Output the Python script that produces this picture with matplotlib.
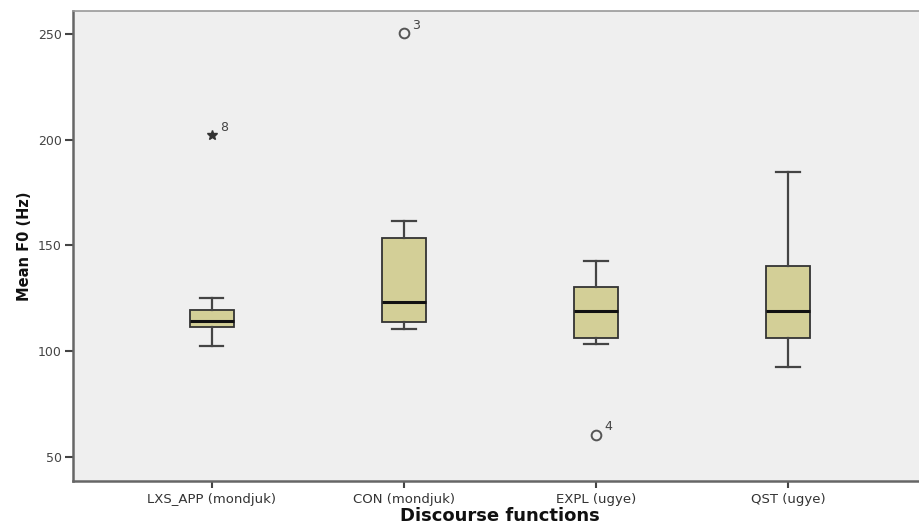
import matplotlib
matplotlib.use("Agg")
import matplotlib.pyplot as plt

categories = ["LXS_APP (mondjuk)", "CON (mondjuk)", "EXPL (ugye)", "QST (ugye)"]
whisker_low = [102.4, 110.7, 103.6, 92.3]
q1 = [111.5, 113.6, 106.3, 106.3]
median = [114.2, 123.2, 118.9, 118.8]
q3 = [119.4, 153.5, 130.4, 140.2]
whisker_high = [125.0, 161.5, 142.6, 184.8]
outlier_values = [[202.2], [250.3], [60.6], []]
outlier_labels = [["8"], ["3"], ["4"], []]
outlier_markers = [["*"], ["o"], ["o"], []]
yticks = [50, 100, 150, 200, 250]

plt.rcParams['font.family'] = ['DejaVu Sans']

fig = plt.figure(figsize=(9.19, 5.25), dpi=100)
fig.patch.set_facecolor('white')
ax = fig.add_axes([0.0794, 0.0829, 0.9293, 0.8967])
ax.set_facecolor('#efefef')

stats = []
for i in range(len(categories)):
    stats.append(dict(whislo=whisker_low[i], q1=q1[i], med=median[i], q3=q3[i],
                      whishi=whisker_high[i], fliers=[], label=categories[i]))
positions = list(range(1, len(categories) + 1))
ax.bxp(stats, positions=positions, widths=0.23, patch_artist=True, showfliers=False,
       boxprops=dict(facecolor='#d3cf97', edgecolor='#333333', linewidth=1.3),
       medianprops=dict(color='#111111', linewidth=2.2),
       whiskerprops=dict(color='#444444', linewidth=1.6),
       capprops=dict(color='#444444', linewidth=1.6),
       capwidths=0.12)

for i, pos in enumerate(positions):
    for v, lab, m in zip(outlier_values[i], outlier_labels[i], outlier_markers[i]):
        if m == '*':
            ax.plot([pos], [v], marker='*', color='#333333', markersize=7, linestyle='none')
        else:
            ax.plot([pos], [v], marker='o', markerfacecolor='none', markeredgecolor='#555555',
                    markeredgewidth=1.4, markersize=7, linestyle='none')
        ax.annotate(lab, xy=(pos, v), xytext=(6, 3), textcoords='offset points',
                    fontsize=9, color='#444444')

ax.set_xlim(0.276, 4.724)
ax.set_ylim(38.4, 261.0)
ax.set_yticks(yticks)
ax.set_xticks(positions)
ax.set_xticklabels(categories, fontsize=9.5, color='#333333')
ax.tick_params(axis='y', labelsize=9, labelcolor='#444444', direction='out', length=6,
               width=1.5, color='#444444', pad=2)
ax.tick_params(axis='x', direction='out', length=5, width=1.5, color='#444444', pad=3)

for s in ['left', 'bottom']:
    ax.spines[s].set_color('#666666')
    ax.spines[s].set_linewidth(1.8)
ax.spines['top'].set_color('#999999')
ax.spines['top'].set_linewidth(1.2)
ax.spines['right'].set_visible(False)

ax.set_ylabel('Mean F0 (Hz)', fontsize=10.5, fontweight='bold', color='#111111', labelpad=4)
ax.set_xlabel('Discourse functions', fontsize=13, fontweight='bold', color='#111111', labelpad=1)

fig.savefig('out.png', dpi=100, facecolor='white')
